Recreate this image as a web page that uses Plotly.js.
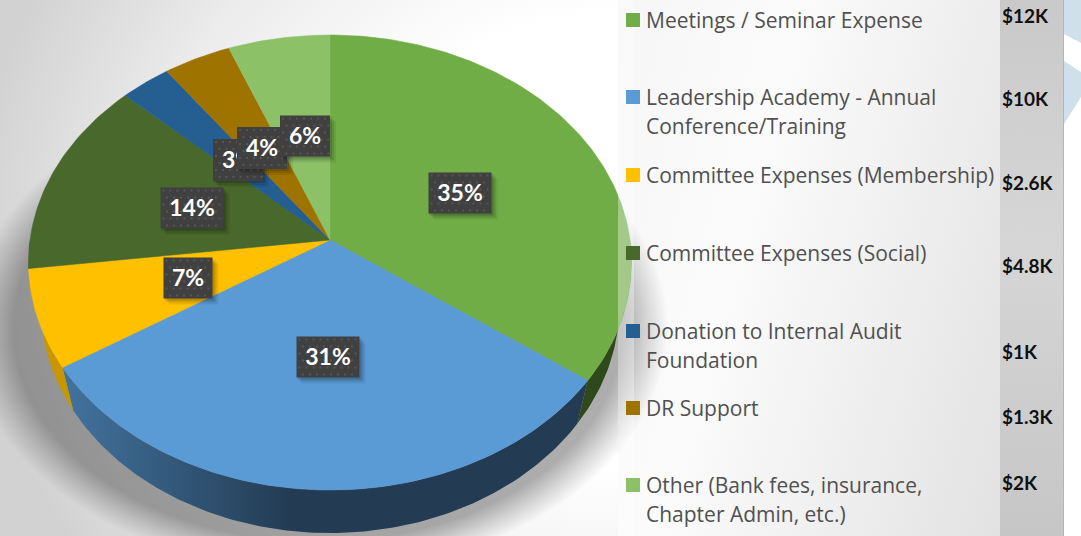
<!DOCTYPE html>
<html><head><meta charset="utf-8">
<script src="https://cdn.plot.ly/plotly-3.0.1.min.js"></script>
<style>
html,body{margin:0;padding:0;width:1081px;height:536px;overflow:hidden;background:#fff}
#bg2{position:absolute;left:618px;top:0;width:382px;height:536px;background:linear-gradient(105deg,#f6f6f6 0%,#fbfbfb 35%,#e2e2e2 100%)}
#bg3{position:absolute;left:0;top:0;width:618px;height:536px;background:radial-gradient(ellipse 640px 560px at 610px 240px,#fff 0%,#fff 40%,#ececec 72%,#d2d2d2 100%)}
#sh{position:absolute;left:0;top:0;width:1000px;height:536px;background:radial-gradient(ellipse 350px 245px at 318px 328px, rgba(0,0,0,.32) 0%, rgba(0,0,0,.32) 87%, rgba(0,0,0,.14) 94%, rgba(0,0,0,0) 100%)}
#col{position:absolute;left:1000px;top:0;width:63px;height:536px;background:linear-gradient(to bottom,#c9c9c9,#d6d6d6 45%,#c6c6c6);border-right:1px solid #b5b5b5}
#plot{position:absolute;left:0;top:0;width:1081px;height:536px}
</style></head><body>
<div id="bg3"></div><div id="bg2"></div><div id="sh"></div><div id="col"></div>
<div id="plot"></div>
<script>
const categories = ['Meetings / Seminar Expense','Leadership Academy - Annual<br>Conference/Training','Committee Expenses (Membership)','Committee Expenses (Social)','Donation to Internal Audit<br>Foundation','DR Support','Other (Bank fees, insurance,<br>Chapter Admin, etc.)'];
const shares = [35,31,7,14,3,4,6];
const amounts = ['$12K','$10K','$2.6K','$4.8K','$1K','$1.3K','$2K'];
const colors = ['#70AD47','#5B9BD5','#FFC000','#48682C','#255E91','#9E7300','#8CC168'];
const wallLeft = ['#2F4A1A','#233C53','#C89700','#2F4A1A','#1A3F60','#6A4D00','#5F8A45'];
const wallRight = ['#2F4A1A','#41719C','#C89700','#2F4A1A','#1A3F60','#6A4D00','#5F8A45'];

// layout of the drawing
const apex=[330,240], rx=300, my=225.3, persp=0.0989, depth=43, shrink=0.96;
const amountY=[15,98,182,265,351,416,482], keyY=[20,97,175,253,331,408,485];
const boxes=[[460,193,63,41],[328,357,63,41],[188,278,49,41],[192,208,63,41],[238,160,50,42],[262,148,50,42],[305,136,50,41]];

function rim(deg){const t=deg*Math.PI/180,X=Math.sin(t),Y=-Math.cos(t),d=1-persp*Y;
  return [apex[0]+rx*X/d, apex[1]+my*Y/d];}
function floor(p){return [apex[0]+shrink*(p[0]-apex[0]), p[1]+depth];}
function arc(a,b){const n=Math.max(2,Math.ceil(Math.abs(b-a))),o=[];for(let i=0;i<=n;i++)o.push(a+(b-a)*i/n);return o;}

const traces=[];
const hid={hoverinfo:'skip',showlegend:false};
let total=shares.reduce((a,b)=>a+b,0), cum=[0];
shares.forEach(s=>cum.push(cum[cum.length-1]+s/total*360));

// side wall
shares.forEach((s,i)=>{
  const a=Math.max(cum[i],90), b=Math.min(cum[i+1],270);
  if(b<=a) return;
  const top=arc(a,b).map(rim), bot=top.map(floor).reverse(), pts=top.concat(bot);
  const tr={type:'scatter',mode:'lines',line:{width:0},fill:'toself',x:pts.map(p=>p[0]),y:pts.map(p=>p[1]),...hid};
  if(wallLeft[i]===wallRight[i]) tr.fillcolor=wallLeft[i];
  else tr.fillgradient={type:'horizontal',colorscale:[[0,wallRight[i]],[1,wallLeft[i]]],start:72,stop:290};
  traces.push(tr);
});
// top surface
shares.forEach((s,i)=>{
  const pts=[apex].concat(arc(cum[i],cum[i+1]).map(rim)); pts.push(apex);
  traces.push({type:'scatter',mode:'lines',line:{width:0.5,color:colors[i]},fill:'toself',fillcolor:colors[i],name:categories[i].replace('<br>',' '),text:s+'%',x:pts.map(p=>p[0]),y:pts.map(p=>p[1]),hoverinfo:'name+text',showlegend:false});
});
// labels: shadow, box, dots, text
function rect(x0,y0,x1,y1){return {x:[x0,x1,x1,x0,x0],y:[y0,y0,y1,y1,y0]};}
shares.forEach((s,i)=>{
  const [cx,cy,w,h]=boxes[i], x0=cx-w/2,x1=cx+w/2,y0=cy-h/2,y1=cy+h/2;
  [[6,.07],[4,.10],[2,.14]].forEach(([o,al])=>traces.push({type:'scatter',mode:'lines',line:{width:0},fill:'toself',fillcolor:'rgba(0,0,0,'+al+')',...rect(x0+o-1,y0+o,x1+o,y1+o),...hid}));
  traces.push({type:'scatter',mode:'lines',line:{width:0},fill:'toself',fillcolor:'#404040',...rect(x0,y0,x1,y1),...hid});
  const dx=[],dy=[];
  for(let yy=y0+3,r=0;yy<y1;yy+=7,r++)for(let xx=x0+3+(r%2?3.5:0);xx<x1-1;xx+=7){dx.push(xx);dy.push(yy);}
  traces.push({type:'scatter',mode:'markers',marker:{symbol:'square',size:2,color:'#555555'},x:dx,y:dy,...hid});
  traces.push({type:'scatter',mode:'text',x:[cx],y:[cy+2],text:[s+'%'],textposition:'middle center',textfont:{family:'Lato, sans-serif',size:23,color:'#fff',weight:700},...hid});
});

const shapes=[{type:'rect',layer:'above',xref:'x',yref:'y',x0:618,x1:634,y0:0,y1:536,line:{width:0},fillcolor:'rgba(255,255,255,0.35)'}];
categories.forEach((c,i)=>shapes.push({type:'rect',layer:'above',xref:'x',yref:'y',x0:626,x1:640,y0:keyY[i]-7,y1:keyY[i]+7,line:{width:0},fillcolor:colors[i]}));
// pale blue decoration at the right
shapes.push({type:'path',layer:'below',xref:'x',yref:'y',path:'M1064,0 L1081,0 L1081,43 L1064,34 Z',fillcolor:'#CFE0EA',line:{width:0}});
shapes.push({type:'path',layer:'below',xref:'x',yref:'y',path:'M1064,61 L1081,72 L1081,97 L1064,124 Z',fillcolor:'#CFE0EA',line:{width:0}});

const annotations=[];
categories.forEach((c,i)=>{
  c.split('<br>').forEach((t,j)=>annotations.push({xref:'x',yref:'y',x:644,y:keyY[i]+j*29,text:t,showarrow:false,xanchor:'left',yanchor:'middle',font:{family:'Open Sans, sans-serif',size:21,color:'#505050'}}));
  annotations.push({xref:'x',yref:'y',x:1000,y:amountY[i],text:'<b>'+amounts[i]+'</b>',showarrow:false,xanchor:'left',yanchor:'middle',font:{family:'Lato, sans-serif',size:19,color:'#111'}});
});

Plotly.newPlot('plot',traces,{
  width:1081,height:536,margin:{l:0,r:0,t:0,b:0},showlegend:false,
  paper_bgcolor:'rgba(0,0,0,0)',plot_bgcolor:'rgba(0,0,0,0)',
  xaxis:{range:[0,1081],visible:false,fixedrange:true},
  yaxis:{range:[536,0],visible:false,fixedrange:true},
  shapes,annotations
},{displayModeBar:false,staticPlot:true});
</script>
</body></html>
